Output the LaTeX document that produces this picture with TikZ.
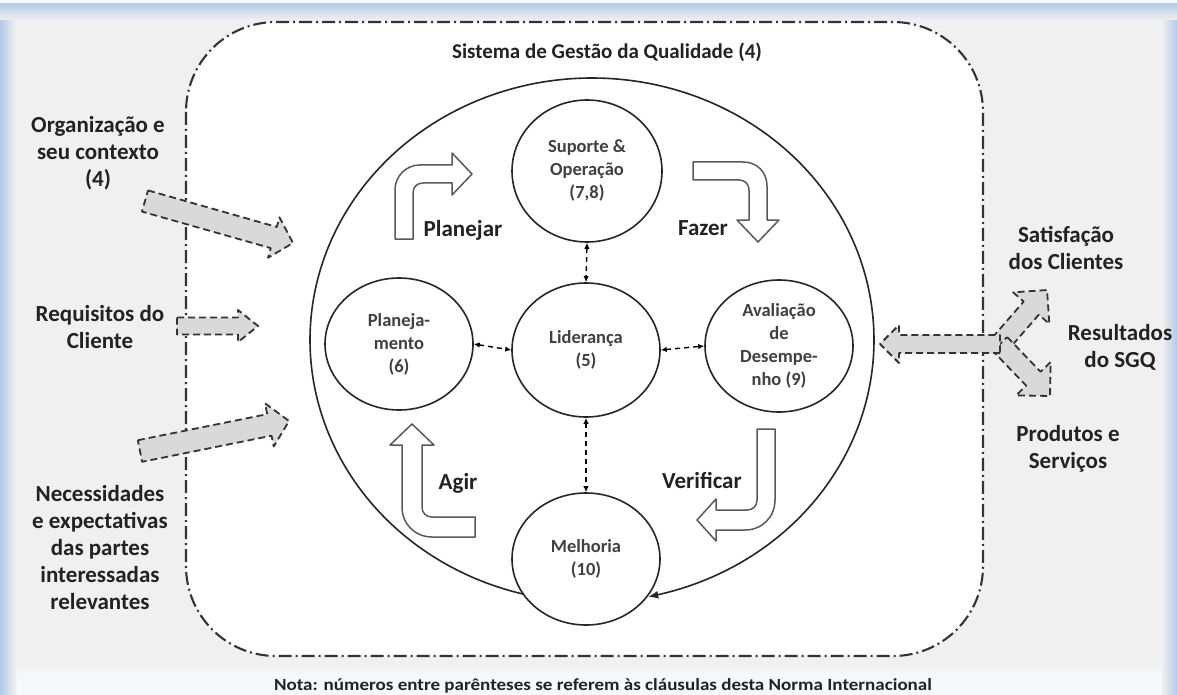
\documentclass[tikz,border=0pt]{standalone}
\usepackage{fontspec}
\setmainfont{Carlito}
\usetikzlibrary{shapes.geometric,arrows.meta,calc}
\definecolor{bgray}{HTML}{F0F0F0}
\definecolor{fblue}{HTML}{B3CAE8}
\definecolor{stripc}{HTML}{F6F8FB}
\definecolor{agray}{HTML}{D9D9D9}
\definecolor{lgray}{HTML}{333333}
\definecolor{tgray}{HTML}{222222}
\newcommand{\garr}[5]{%
  \coordinate (gh) at ($(#2)!#5!(#1)$);
  \draw[garrow] ($(#1)!#3!90:(#2)$) -- ($(gh)!#3!90:(#2)$) -- ($(gh)!#4!90:(#2)$) -- (#2)
    -- ($(gh)!#4!-90:(#2)$) -- ($(gh)!#3!-90:(#2)$) -- ($(#1)!#3!-90:(#2)$) -- cycle;}
\tikzset{
  circ/.style={ellipse, draw=black!85, line width=1.6pt, fill=white, inner sep=0pt,
    minimum width=148pt, minimum height=132pt, align=center,
    font=\fontsize{18.5}{23}\selectfont\bfseries, text=black!75},
  garrow/.style={fill=agray, draw=lgray, line width=1.8pt, dash pattern=on 7pt off 4pt, line join=round},
  warrow/.style={fill=white, draw=black!65, line width=1.5pt, line join=round},
  dda/.style={line width=1.4pt, dash pattern=on 5pt off 4pt,
    {Latex[length=6pt,width=5.5pt]}-{Latex[length=6pt,width=5.5pt]}},
  lab/.style={font=\fontsize{23}{27}\selectfont\bfseries, text=tgray, align=center, inner sep=0pt},
  sysbox/.style={draw=lgray, line width=2.1pt, fill=white, rounded corners=90pt,
    dash pattern=on 13pt off 4pt on 2pt off 4pt}
}
\begin{document}
\begin{tikzpicture}[x=1pt,y=-1pt]
\useasboundingbox (0,0) rectangle (1177,695);
% background frame
\fill[bgray] (0,0) rectangle (1177,695);
\fill[stripc] (0,668) rectangle (1177,695);
\shade[top color=bgray, bottom color=stripc] (0,664) rectangle (1177,674);
\shade[left color=fblue, right color=bgray] (0,0) rectangle (16,695);
\shade[left color=bgray, right color=fblue] (1162,0) rectangle (1177,695);
\shade[top color=fblue, bottom color=bgray] (0,3) rectangle (1177,20);
\fill[white] (0,0) rectangle (1177,3);
% system box
\draw[sysbox] (186,22) rectangle (983,656);
\node[lab, font=\fontsize{21}{25}\selectfont\bfseries] (title) at (607,52) {Sistema de Gestão da Qualidade (4)};
% input/output gray arrows
\coordinate (orgA) at (145,201); \coordinate (orgB) at (293,243);
\coordinate (reqA) at (177,326); \coordinate (reqB) at (258,326);
\coordinate (necA) at (140,451); \coordinate (necB) at (289,421);
\garr{orgA}{orgB}{11pt}{21pt}{20pt}
\garr{reqA}{reqB}{8.5pt}{16pt}{20pt}
\garr{necA}{necB}{11pt}{22pt}{20pt}
\coordinate (junc) at (1000,344);
\coordinate (satT) at (1047,290);
\coordinate (proT) at (1050,396);
\coordinate (outT) at (880,344);
\garr{junc}{satT}{10pt}{24pt}{24pt}
\garr{junc}{proT}{10pt}{24pt}{24pt}
\garr{junc}{outT}{9pt}{19pt}{19pt}
% circles
\node[circ, minimum width=150pt, minimum height=142pt] (sup) at (587,171) {Suporte \&\\Operação\\(7,8)};
\node[circ, minimum height=134pt] (lid) at (586,350) {Liderança\\(5)};
\node[circ] (pla) at (399,344) {Planeja-\\mento\\(6)};
\node[circ] (ava) at (779,346) {Avaliação\\de\\Desempe-\\nho (9)};
\node[circ] (mel) at (586,559) {Melhoria\\(10)};
% big cycle
\draw[line width=1.6pt, black!85, -{Latex[length=10pt,width=8pt]}]
  plot[domain=-256:78.5, samples=240, smooth] ({592+282*cos(\x)},{340+262*sin(\x)});
% dashed links
\draw[dda] (sup.south) -- (lid.north);
\draw[dda] (pla.east) -- (lid.west);
\draw[dda] (lid.east) -- (ava.west);
\draw[dda] (lid.south) -- (mel.north);
% PDCA block arrows
\draw[warrow] (395,239) -- (395,190) .. controls (395,176) and (406,165) .. (420,165) -- (452,165)
  -- (452,153) -- (472,174) -- (452,195) -- (452,183) -- (423,183)
  .. controls (417,183) and (413,187) .. (413,193) -- (413,239) -- cycle;
\draw[warrow] (693,162) -- (743,162) .. controls (757,162) and (767,172) .. (767,186) -- (767,220)
  -- (779,220) -- (758,242) -- (737,220) -- (749,220) -- (749,190)
  .. controls (749,184) and (745,180) .. (739,180) -- (693,180) -- cycle;
\draw[warrow] (475,537) -- (432,537) .. controls (415,537) and (402,524) .. (402,507) -- (402,445)
  -- (390,445) -- (412,424) -- (434,445) -- (422,445) -- (422,507)
  .. controls (422,513) and (426,517) .. (432,517) -- (475,517) -- cycle;
\draw[warrow] (757,429) -- (775,429) -- (775,500) .. controls (775,517) and (762,530) .. (745,530)
  -- (716,530) -- (716,541) -- (697,520) -- (716,499) -- (716,510) -- (747,510)
  .. controls (753,510) and (757,506) .. (757,500) -- cycle;
\node[lab] (plan) at (463,230) {Planejar};
\node[lab] (faz) at (703,228) {Fazer};
\node[lab] (agir) at (458,483) {Agir};
\node[lab] (ver) at (702,480) {Verificar};
% outer labels
\node[lab] (org) at (98,153.5) {Organização e\\seu contexto\\(4)};
\node[lab] (req) at (100,327.5) {Requisitos do\\Cliente};
\node[lab] (nec) at (100,548) {Necessidades\\e expectativas\\das partes\\interessadas\\relevantes};
\node[lab] (sat) at (1066,248) {Satisfação\\dos Clientes};
\node[lab] (res) at (1120,347) {Resultados\\do SGQ};
\node[lab] (pro) at (1068,448.5) {Produtos e\\Serviços};
\node[lab, font=\fontsize{17}{19}\selectfont\bfseries, xscale=1.12] (nota) at (603,686) {Nota: números entre parênteses se referem às cláusulas desta Norma Internacional};
\end{tikzpicture}
\end{document}
